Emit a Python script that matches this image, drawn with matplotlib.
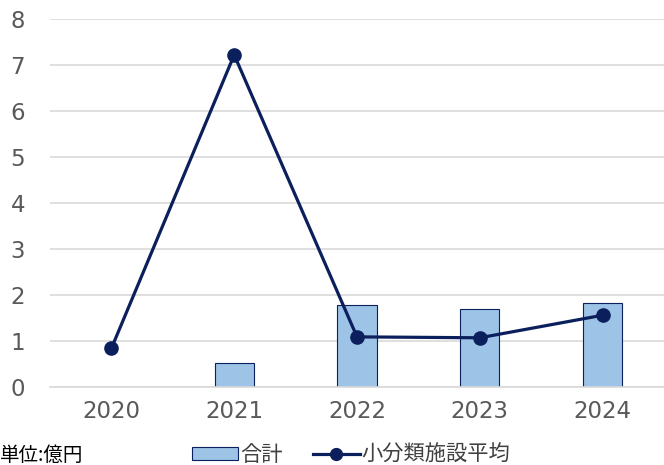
import matplotlib.pyplot as plt
from matplotlib.lines import Line2D
from matplotlib.patches import Patch

plt.rcParams['font.family'] = ['Noto Sans CJK JP', 'DejaVu Sans']

# chart data
years = ['2020', '2021', '2022', '2023', '2024']
total = [0, 0.52, 1.78, 1.69, 1.82]
avg = [0.84, 7.22, 1.09, 1.07, 1.56]

navy = '#0b1f5c'
bar_fill = '#9dc3e6'

fig = plt.figure(figsize=(6.64, 4.65), dpi=100)
ax = fig.add_axes([50 / 664, 1 - 387 / 465, 614 / 664, 368 / 465])

x = range(len(years))
ax.bar(x, total, width=0.32, color=bar_fill, edgecolor=navy, linewidth=0.8, zorder=2)
ax.plot(x, avg, color=navy, linewidth=2.3, marker='o', markersize=9.5, zorder=3)

ax.set_ylim(0, 8)
ax.set_xlim(-0.5, len(years) - 0.5)
ax.set_yticks(range(0, 9))
ax.set_xticks(list(x))
ax.set_xticklabels(years)
ax.grid(axis='y', color='#d9d9d9', linewidth=1.2, zorder=0)
ax.set_axisbelow(True)
for s in ['top', 'right', 'left']:
    ax.spines[s].set_visible(False)
ax.spines['bottom'].set_color('#d9d9d9')
ax.spines['bottom'].set_linewidth(1.2)
for lbl in ax.get_xticklabels() + ax.get_yticklabels():
    lbl.set_family('DejaVu Sans')
ax.tick_params(axis='both', length=0, labelsize=16.5, colors='#595959')
ax.tick_params(axis='y', pad=18)
ax.tick_params(axis='x', pad=9)

# legend + unit note
handles = [Patch(facecolor=bar_fill, edgecolor=navy, linewidth=0.8),
           Line2D([0], [0], color=navy, linewidth=2.3, marker='o', markersize=8.5)]
fig.legend(handles, ['合計', '小分類施設平均'], loc='center', bbox_to_anchor=(351 / 664, 1 - 455 / 465),
           ncol=2, frameon=False, fontsize=15.3, handlelength=2.2, handleheight=0.5,
           columnspacing=1.4, handletextpad=0.1, labelcolor='#404040')
fig.text(0, 1 - 455 / 465, '単位:億円', fontsize=14, va='center', ha='left', color='black')

fig.savefig('out.png', dpi=100)
